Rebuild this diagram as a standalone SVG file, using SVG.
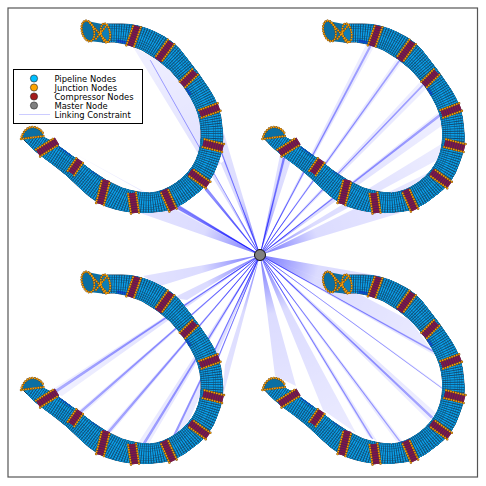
<svg xmlns="http://www.w3.org/2000/svg" xmlns:xlink="http://www.w3.org/1999/xlink" width="486" height="486" viewBox="0 0 486 486">
<style>
.lt{fill:url(#gl)}.st{fill:url(#gs);stroke:url(#gs);stroke-width:.4}
.lg{font:8.4px "DejaVu Sans",sans-serif;fill:#000}
.dot{fill:none;stroke-linecap:round;stroke-dasharray:0 2.500}
.od{stroke:#6a4510;stroke-width:2.500}.oo{stroke:#f59c08;stroke-width:1.800}
.b{fill:none;stroke-linecap:butt}
</style>
<defs>
<radialGradient id="gl" gradientUnits="userSpaceOnUse" cx="260" cy="255" r="240"><stop offset="0" stop-color="#00f" stop-opacity=".55"/><stop offset=".25" stop-color="#00f" stop-opacity=".14"/><stop offset="1" stop-color="#00f" stop-opacity=".06"/></radialGradient>
<radialGradient id="gs" gradientUnits="userSpaceOnUse" cx="260" cy="255" r="240"><stop offset="0" stop-color="#00f" stop-opacity=".85"/><stop offset=".3" stop-color="#00f" stop-opacity=".45"/><stop offset="1" stop-color="#00f" stop-opacity=".28"/></radialGradient>
<path id="c" fill="none" d="M100 33L117.500 33.500Q135 34 150 42Q165 50 177.500 63.500Q190 77 200 93.500Q210 110 211 128.500Q212 147 206 162.500Q200 178 184.500 189.500Q169 201 152 202.500Q135 204 118.500 195Q102 186 88.500 174.500Q75 163 61 154Q47 145 40 140L33 135"/>
<path id="o" d="M107 24L122 24Q138 24 155 32Q175 41 185 56Q198 72 209 89Q221 107 222 127Q225 147 217 165Q211 184 192 197Q176 211 154 212Q133 214 115 209Q97 205 81 189Q65 173 51 163Q37 153 30 146L22 138L43 137L53 142Q78 160 92 171Q107 182 122 188Q138 193 150 193Q163 192 176 183Q190 173 196 160Q202 147 201 130Q200 113 191 98Q183 83 170 70Q157 58 142 50Q128 43 115 42L102 42Z"/>
<clipPath id="cl"><use href="#o"/></clipPath>
<g id="tube">
<path d="M87 21L107 25L107 43L89 41Z" fill="#0b6fa3"/>
<use href="#o" fill="#0b8ccb" stroke="#123a58" stroke-width="1"/>
<g clip-path="url(#cl)">
<use href="#c" stroke="#0a9fe8" stroke-width="46"/>
<use href="#c" stroke="#14597f" stroke-width="42"/><use href="#c" stroke="#0a9fe8" stroke-width="41.200"/>
<use href="#c" stroke="#14597f" stroke-width="37.400"/><use href="#c" stroke="#0a9fe8" stroke-width="36.600"/>
<use href="#c" stroke="#14597f" stroke-width="32.800"/><use href="#c" stroke="#0a9fe8" stroke-width="32"/>
<use href="#c" stroke="#14597f" stroke-width="28.200"/><use href="#c" stroke="#0a9fe8" stroke-width="27.400"/>
<use href="#c" stroke="#14597f" stroke-width="23.600"/><use href="#c" stroke="#0a9fe8" stroke-width="22.800"/>
<use href="#c" stroke="#14597f" stroke-width="19"/><use href="#c" stroke="#0a9fe8" stroke-width="18.200"/>
<use href="#c" stroke="#14597f" stroke-width="14.400"/><use href="#c" stroke="#0a9fe8" stroke-width="13.600"/>
<use href="#c" stroke="#14597f" stroke-width="9.800"/><use href="#c" stroke="#0a9fe8" stroke-width="9"/>
<use href="#c" stroke="#14597f" stroke-width="5.200"/><use href="#c" stroke="#0a9fe8" stroke-width="4.400"/>
<use href="#c" stroke="#14456a" stroke-width="46" stroke-dasharray=".8 1.500"/>
<path class="b" stroke="#0a35c8" stroke-opacity=".7" stroke-width="3.500" d="M117 41L126 43M148 191L162 189M195 152L199 140M190 95L185 88M60 146L72 155M92 170L102 176"/>
</g>
<path class="b" stroke="#4a1a60" stroke-width="8" d="M137 26L130 46M171 42L158 60M195 72L182 85M219 107L200 114M223 148L203 143M208 185L190 172M173 210L164 190M135 213L132 193M100 204L106 180M71 173L80 160M38 153L57 141"/>
<path class="b" stroke="#7f1a45" stroke-width="8" stroke-dasharray="1.700 .6" d="M137 26L130 46M171 42L158 60M195 72L182 85M219 107L200 114M223 148L203 143M208 185L190 172M173 210L164 190M135 213L132 193M100 204L106 180M71 173L80 160M38 153L57 141"/>
<g id="edges">
<path class="dot od" d="M133 26.300L126 46.300M174.200 44.300L161.200 62.300M197.800 74.800L184.800 87.800M220.400 110.800L201.400 117.800M222 151.900L202 146.900M205.700 188.200L187.700 175.200M169.400 211.600L160.400 191.600M131 213.600L128 193.600M96.100 203L102.100 179M67.700 170.700L76.700 157.700M35.900 149.600L54.900 137.600M140.800 27.300L133.800 47.300M167.800 39.700L154.800 57.700M192.200 69.200L179.200 82.200M217.600 103.200L198.600 110.200M224 144.100L204 139.100M210.300 181.800L192.300 168.800M176.600 208.400L167.600 188.400M139 212.400L136 192.400M103.900 205L109.900 181M74.300 175.300L83.300 162.300M40.100 156.400L59.100 144.400"/>
<path class="dot oo" d="M133 26.300L126 46.300M174.200 44.300L161.200 62.300M197.800 74.800L184.800 87.800M220.400 110.800L201.400 117.800M222 151.900L202 146.900M205.700 188.200L187.700 175.200M169.400 211.600L160.400 191.600M131 213.600L128 193.600M96.100 203L102.100 179M67.700 170.700L76.700 157.700M35.900 149.600L54.900 137.600M140.800 27.300L133.800 47.300M167.800 39.700L154.800 57.700M192.200 69.200L179.200 82.200M217.600 103.200L198.600 110.200M224 144.100L204 139.100M210.300 181.800L192.300 168.800M176.600 208.400L167.600 188.400M139 212.400L136 192.400M103.900 205L109.900 181M74.300 175.300L83.300 162.300M40.100 156.400L59.100 144.400"/>
</g>
<g id="mouth">
<ellipse cx="88" cy="31" rx="6" ry="10.500" transform="rotate(-15 88 31)" fill="#0b6fa3"/>
<ellipse cx="105.500" cy="33" rx="4.500" ry="9.500" transform="rotate(-10 105.500 33)" fill="#0c7fb8"/>
<path d="M21 139Q24 128 32 127Q40 127 44 136L30 137Z" fill="#0b6fa3"/>
<g class="dot od"><ellipse cx="88" cy="31" rx="6" ry="10.500" transform="rotate(-15 88 31)"/><ellipse cx="105.500" cy="33" rx="4.500" ry="9.500" transform="rotate(-10 105.500 33)"/><path d="M90 23L107 42M107 25L95 40M21 139Q24 128 32 127Q40 127 44 135M21 139L44 136"/></g>
<g class="dot oo"><ellipse cx="88" cy="31" rx="6" ry="10.500" transform="rotate(-15 88 31)"/><ellipse cx="105.500" cy="33" rx="4.500" ry="9.500" transform="rotate(-10 105.500 33)"/><path d="M90 23L107 42M107 25L95 40M21 139Q24 128 32 127Q40 127 44 135M21 139L44 136"/></g>
</g>
</g>
</defs>
<rect width="486" height="486" fill="#fff"/>
<g id="connectors">
<path class="lt" d="M260 255L133 47L158 60ZM260 255L158 60L185 85ZM260 255L185 85L200 115ZM260 255L223 130L222 155ZM260 255L68 150L145 193ZM260 255L140 213L178 208ZM260 255L225 160L212 170ZM260 255L130 190L150 200Z"/>
<path class="st" d="M260 255L205 190L207 188ZM260 255L160 199L163 197ZM260 255L178 207L180 206ZM260 255L150 60L151 61ZM260 255L220 150L221 150Z"/>
<path class="lt" d="M260 255L366 45L375 45ZM260 255L396 60L402 62ZM260 255L419 83L428 87ZM260 255L439 112L447 122ZM260 255L443 143L443 157ZM260 255L440 167L400 213ZM260 255L280 155L291 160Z"/>
<path class="st" d="M260 255L370 45L372 45ZM260 255L399 60L400 61ZM260 255L423 84L424 85ZM260 255L441 113L442 115ZM260 255L283 158L285 158Z"/>
<path class="lt" d="M260 255L143 276L160 286ZM260 255L173 298L187 300ZM260 255L50 391L62 396ZM260 255L78 411L85 412ZM260 255L106 431L112 432ZM260 255L138 443L148 445ZM260 255L171 440L182 437ZM260 255L192 420L197 413ZM260 255L222 400L225 365Z"/>
<path class="st" d="M260 255L54 391L57 392ZM260 255L80 411L82 412ZM260 255L108 431L110 432ZM260 255L143 443L145 444ZM260 255L172 438L174 438ZM260 255L193 418L195 416Z"/>
<path class="lt" d="M260 255L380 276L323 280ZM260 255L420 326L363 296ZM260 255L436 356L410 320ZM260 255L441 386L447 392ZM260 255L429 421L437 414ZM260 255L404 443L396 441ZM260 255L377 441L368 436ZM260 255L356 433L323 410ZM260 255L296 386L275 376Z"/>
<path class="st" d="M260 255L436 352L437 354ZM260 255L442 388L444 390ZM260 255L431 418L433 417ZM260 255L401 442L399 441ZM260 255L373 439L371 438Z"/>
</g>
<g id="tube-top-left"><use href="#tube"/></g>
<g id="tube-top-right"><use href="#tube" x="241.500"/></g>
<g id="tube-bottom-left"><use href="#tube" y="251"/></g>
<g id="tube-bottom-right"><use href="#tube" x="241.500" y="251"/></g>
<g id="master-node"><circle cx="260" cy="255" r="5.500" fill="#808080" stroke="#111" stroke-width="1"/></g>
<rect id="frame" x="8" y="8" width="469.500" height="469" fill="none" stroke="#555" stroke-width="1.200"/>
<g id="legend">
<rect x="13.500" y="69.500" width="129" height="54" fill="#fff" stroke="#000" stroke-width="1"/>
<circle cx="34" cy="78.500" r="3.600" fill="#00bfff" stroke="#222" stroke-width=".6"/>
<circle cx="34" cy="87.500" r="3.600" fill="#ffa500" stroke="#222" stroke-width=".6"/>
<circle cx="34" cy="96.500" r="3.600" fill="#a51c1c" stroke="#222" stroke-width=".6"/>
<circle cx="34" cy="105.500" r="3.600" fill="#808080" stroke="#222" stroke-width=".6"/>
<line x1="19" y1="114.500" x2="50" y2="114.500" stroke="#00f" stroke-opacity=".2" stroke-width="1"/>
<text class="lg" x="54.500" y="81.500">Pipeline Nodes</text>
<text class="lg" x="54.500" y="90.500">Junction Nodes</text>
<text class="lg" x="54.500" y="99.500">Compressor Nodes</text>
<text class="lg" x="54.500" y="108.500">Master Node</text>
<text class="lg" x="54.500" y="117.500">Linking Constraint</text>
</g>
</svg>
